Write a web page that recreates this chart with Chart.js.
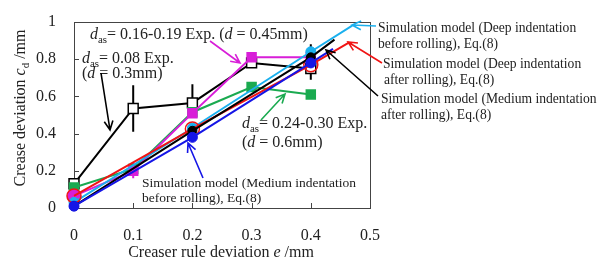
<!DOCTYPE html>
<html>
<head>
<meta charset="utf-8">
<script src="https://cdn.jsdelivr.net/npm/chart.js@4.4.1/dist/chart.umd.min.js"></script>
<style>
  html, body { margin: 0; padding: 0; background: #fff; }
  #wrap { width: 615px; height: 272px; }
</style>
</head>
<body>
<div id="wrap"><canvas id="chart1" width="615" height="272"></canvas></div>
<script>
// experiment points, creaser rule deviation e
let xValues = [0, 0.1, 0.2, 0.3, 0.4];
let exp008 = [0.13, 0.535, 0.565, 0.78, 0.75];
let exp008Lo = [null, 0.41, 0.52, null, 0.69];
let exp008Hi = [null, 0.66, 0.665, null, 0.88];
let exp016 = [0.065, 0.2, 0.51, 0.81, 0.81];
let exp016Lo = [null, 0.16, null, null, null];
let exp016Hi = [null, 0.245, null, null, null];
let exp024 = [0.11, 0.21, 0.515, 0.65, 0.61];

// simulation lines Eq.(8): markers at 0, 0.2, 0.4 then line end
let simX_deepBefore = [0, 0.2, 0.4, 0.47];
let simY_deepBefore = [0.03, 0.43, 0.84, 0.98];
let simX_deepAfter = [0, 0.2, 0.4, 0.465];
let simY_deepAfter = [0.065, 0.425, 0.77, 0.89];
let simX_medAfter = [0, 0.2, 0.4, 0.44];
let simY_medAfter = [0.01, 0.415, 0.81, 0.905];
let simX_medBefore = [0, 0.2, 0.4, 0.4375];
let simY_medBefore = [0.01, 0.38, 0.78, 0.855];

let xTicks = [0, 0.1, 0.2, 0.3, 0.4, 0.5];
let yTicks = [0, 0.2, 0.4, 0.6, 0.8, 1];

const FONT = '"Liberation Serif", "Times New Roman", serif';

function pts(xs, ys) {
    return xs.map((x, i) => ({x: x, y: ys[i]}));
}

function rich(ctx, x, y, parts, size, measureOnly) {
    let w = 0;
    for (const p of parts) {
        const s = p.sub ? size * 0.68 : size;
        ctx.font = (p.it ? 'italic ' : '') + s + 'px ' + FONT;
        if (!measureOnly) ctx.fillText(p.t, x + w, y + (p.sub ? size * 0.28 : 0));
        w += ctx.measureText(p.t).width;
    }
    return w;
}

function arrow(ctx, x1, y1, x2, y2, color) {
    ctx.save();
    ctx.strokeStyle = color;
    ctx.lineWidth = 1.6;
    ctx.beginPath();
    ctx.moveTo(x1, y1);
    ctx.lineTo(x2, y2);
    const a = Math.atan2(y2 - y1, x2 - x1);
    const L = 10, s = 0.45;
    ctx.moveTo(x2 - L * Math.cos(a - s), y2 - L * Math.sin(a - s));
    ctx.lineTo(x2, y2);
    ctx.lineTo(x2 - L * Math.cos(a + s), y2 - L * Math.sin(a + s));
    ctx.stroke();
    ctx.restore();
}

const errBars = [
    {lo: exp008Lo, hi: exp008Hi, color: '#000'},
    {lo: exp016Lo, hi: exp016Hi, color: '#d81ed8'}
];

const annot = {
    id: 'annot',
    beforeDatasetsDraw(chart) {
        const ctx = chart.ctx, a = chart.chartArea;
        const xs = chart.scales.x, ys = chart.scales.y;
        ctx.save();
        ctx.strokeStyle = '#444';
        ctx.lineWidth = 1;
        ctx.strokeRect(a.left + 0.5, a.top + 0.5, a.right - a.left, a.bottom - a.top);
        ctx.beginPath();
        xTicks.slice(1, -1).forEach(v => {
            const px = Math.round(xs.getPixelForValue(v)) + 0.5;
            ctx.moveTo(px, a.bottom); ctx.lineTo(px, a.bottom - 5);
        });
        yTicks.slice(1, -1).forEach(v => {
            const py = Math.round(ys.getPixelForValue(v)) + 0.5;
            ctx.moveTo(a.left, py); ctx.lineTo(a.left + 5, py);
        });
        ctx.stroke();
        // error bars
        ctx.lineWidth = 2;
        errBars.forEach(e => {
            ctx.strokeStyle = e.color;
            ctx.beginPath();
            xValues.forEach((x, i) => {
                if (e.lo[i] == null) return;
                const px = xs.getPixelForValue(x);
                ctx.moveTo(px, ys.getPixelForValue(e.lo[i]));
                ctx.lineTo(px, ys.getPixelForValue(e.hi[i]));
            });
            ctx.stroke();
        });
        ctx.restore();
    },
    afterDraw(chart) {
        const ctx = chart.ctx;
        ctx.save();
        ctx.fillStyle = '#222';
        ctx.textBaseline = 'alphabetic';
        // axis titles
        const xt = [{t: 'Creaser rule deviation '}, {t: 'e', it: 1}, {t: ' /mm'}];
        let w = rich(ctx, 0, 0, xt, 16, true);
        rich(ctx, 221 - w / 2, 257, xt, 16);
        const yt = [{t: 'Crease deviation '}, {t: 'c', it: 1}, {t: 'd', sub: 1}, {t: ' /mm'}];
        w = rich(ctx, 0, 0, yt, 16, true);
        ctx.save();
        ctx.translate(25, 108);
        ctx.rotate(-Math.PI / 2);
        rich(ctx, -w / 2, 0, yt, 16);
        ctx.restore();

        // experiment notes
        const das = (rest) => [{t: 'd', it: 1}, {t: 'as', sub: 1}, {t: rest}];
        rich(ctx, 90, 39, das('= 0.16-0.19 Exp. (').concat([{t: 'd', it: 1}, {t: ' = 0.45mm)'}]), 16);
        rich(ctx, 82, 63, das('= 0.08 Exp.'), 16);
        rich(ctx, 82, 78, [{t: '('}, {t: 'd', it: 1}, {t: ' = 0.3mm)'}], 16);
        rich(ctx, 242, 128, das('= 0.24-0.30 Exp.'), 16);
        rich(ctx, 242, 147, [{t: '('}, {t: 'd', it: 1}, {t: ' = 0.6mm)'}], 16);

        // simulation notes
        ctx.font = '13.5px ' + FONT;
        ctx.fillText('Simulation model (Medium indentation', 142, 187);
        ctx.fillText('before rolling), Eq.(8)', 142, 202);
        ctx.font = '13.6px ' + FONT;
        ctx.fillText('Simulation model (Deep indentation', 378, 32);
        ctx.fillText('before rolling), Eq.(8)', 378, 48);
        ctx.fillText('Simulation model (Deep indentation', 383, 68);
        ctx.fillText('after rolling), Eq.(8)', 384, 84);
        ctx.fillText('Simulation model (Medium indentation', 381, 103);
        ctx.fillText('after rolling), Eq.(8)', 381, 119);
        ctx.restore();

        arrow(ctx, 210, 41, 240, 63, '#d81ed8');
        arrow(ctx, 101, 73, 110, 130, '#000');
        arrow(ctx, 261, 120, 285, 94, '#1aaa50');
        arrow(ctx, 203, 178, 188, 143, '#1515e6');
        arrow(ctx, 376, 26, 352, 25, '#1ab0ee');
        arrow(ctx, 382, 63, 348, 42, '#f01414');
        arrow(ctx, 378, 96, 326, 50, '#000');
    }
};

function simSet(xs, ys, color, r, fill) {
    return {
        data: pts(xs, ys),
        borderColor: color,
        borderWidth: 2,
        pointRadius: xs.map((x, i) => i < 3 ? r : 0),
        pointBackgroundColor: fill,
        pointBorderColor: color,
        pointBorderWidth: fill === 'transparent' ? 1.5 : 1,
        clip: false
    };
}

let data = {
    datasets: [
        simSet(simX_medBefore, simY_medBefore, '#1515e6', 5, '#1515e6'),
        simSet(simX_medAfter, simY_medAfter, '#000', 4.5, '#000'),
        simSet(simX_deepAfter, simY_deepAfter, '#f01414', 7, 'transparent'),
        simSet(simX_deepBefore, simY_deepBefore, '#1ab0ee', 5, '#1ab0ee'),
        {
            data: pts(xValues, exp016),
            borderColor: '#d81ed8',
            borderWidth: 2,
            pointStyle: ['circle', 'rect', 'rect', 'rect', 'rect'],
            pointRadius: [6, 6, 6, 6, 6],
            pointBackgroundColor: '#d81ed8',
            pointBorderColor: '#d81ed8',
            clip: false
        },
        {
            data: pts(xValues, exp024),
            borderColor: '#1aaa50',
            borderWidth: 2,
            pointStyle: 'rect',
            pointRadius: 6,
            pointBackgroundColor: '#1aaa50',
            pointBorderColor: '#1aaa50',
            clip: false
        },
        {
            data: pts(xValues, exp008),
            borderColor: '#000',
            borderWidth: 2,
            pointStyle: 'rect',
            pointRadius: 7,
            pointBackgroundColor: '#fff',
            pointBorderColor: '#000',
            pointBorderWidth: 1.5,
            clip: false
        }
    ]
};

let config = {
    type: 'line',
    data,
    options: {
        responsive: false,
        animation: false,
        layout: { padding: { top: 22, right: 245, left: 0, bottom: 0 } },
        plugins: {
            legend: { display: false },
            tooltip: { enabled: false }
        },
        scales: {
            x: {
                type: 'linear',
                min: 0, max: 0.5,
                afterBuildTicks: s => { s.ticks = xTicks.map(v => ({value: v})); },
                afterFit: s => { s.height = 64; },
                grid: { display: false },
                border: { display: false },
                ticks: { color: '#222', padding: 10, font: { family: FONT, size: 16 },
                         callback: v => String(v) }
            },
            y: {
                min: 0, max: 1,
                afterBuildTicks: s => { s.ticks = yTicks.map(v => ({value: v})); },
                afterFit: s => { s.width = 74; },
                grid: { display: false },
                border: { display: false },
                ticks: { color: '#222', padding: 10, font: { family: FONT, size: 16 },
                         callback: v => String(v) }
            }
        }
    },
    plugins: [annot]
};

const myChart1 = new Chart('chart1', config);
</script>
</body>
</html>
